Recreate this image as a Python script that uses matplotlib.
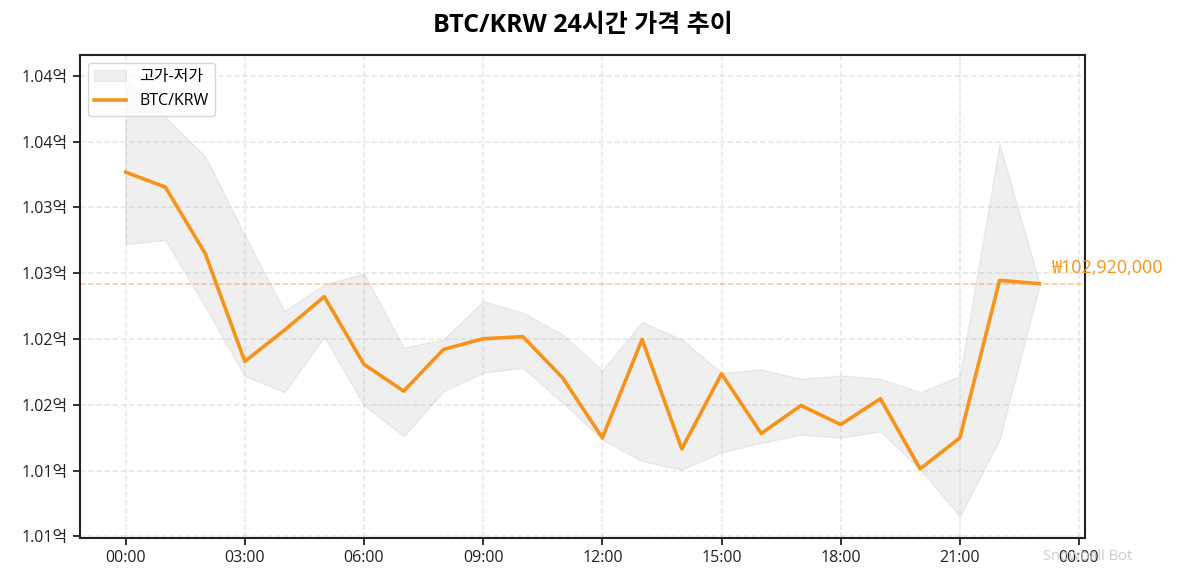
import matplotlib
matplotlib.use("Agg")
import matplotlib.pyplot as plt
from matplotlib.ticker import FuncFormatter, MultipleLocator
from matplotlib.patches import Patch
from matplotlib.lines import Line2D

plt.rcParams['font.family'] = ['Open Sans', 'Noto Sans CJK KR', 'DejaVu Sans']

hours = list(range(24))
close = [103.768, 103.654, 103.151, 102.330, 102.568, 102.822, 102.307, 102.104,
         102.421, 102.502, 102.518, 102.205, 101.749, 102.497, 101.665, 102.236,
         101.782, 101.995, 101.850, 102.046, 101.513, 101.749, 102.946, 102.920]
high = [104.46, 104.186, 103.89, 103.288, 102.712, 102.914, 102.999, 102.434,
        102.497, 102.788, 102.700, 102.535, 102.263, 102.629, 102.497, 102.243,
        102.269, 102.198, 102.223, 102.198, 102.096, 102.218, 103.981, 102.928]
low = [103.22, 103.253, 102.748, 102.218, 102.096, 102.517, 101.995, 101.761,
       102.103, 102.243, 102.282, 102.015, 101.736, 101.571, 101.508, 101.639,
       101.711, 101.774, 101.749, 101.799, 101.508, 101.152, 101.736, 102.903]
close = [v * 1e6 for v in close]
high = [v * 1e6 for v in high]
low = [v * 1e6 for v in low]
current_price = 102920000
xtick_hours = [0, 3, 6, 9, 12, 15, 18, 21, 24]

orange = '#F7931A'

fig = plt.figure(figsize=(11.81, 5.85), dpi=100)
ax = fig.add_axes([80/1181, 1-538/585, (1085-80)/1181, (538-55)/585])

ax.fill_between(hours, low, high, color='gray', alpha=0.12, linewidth=1)
ax.plot(hours, close, color=orange, linewidth=2.6, zorder=3)
ax.axhline(current_price, color=orange, linestyle='--', linewidth=1.1, alpha=0.5)
ax.text(hours[-1] + 0.3, current_price + 50000, f"₩{current_price:,}", color=orange,
        fontsize=13, va='bottom', ha='left')

ax.set_xticks(xtick_hours)
ax.xaxis.set_major_formatter(FuncFormatter(lambda v, p: f"{int(v) % 24:02d}:00"))
ax.yaxis.set_major_locator(MultipleLocator(500000))
ax.yaxis.set_major_formatter(FuncFormatter(lambda v, p: f"{v/1e8:.2f}억"))
ax.set_ylim(100.988e6, 104.658e6)
ax.margins(x=0.05)
ax.tick_params(labelsize=11.5, colors='#222222', length=5, width=1.3)
ax.grid(True, linestyle='--', alpha=0.3, linewidth=1.1)
for s in ax.spines.values():
    s.set_linewidth(1.5)
    s.set_color('#222222')

handles = [Patch(facecolor='gray', alpha=0.12, edgecolor='gray', linewidth=1),
           Line2D([0], [0], color=orange, linewidth=2.6)]
ax.legend(handles, ['고가-저가', 'BTC/KRW'], loc='upper left', fontsize=11.5, framealpha=0.8,
          borderaxespad=0.5)

fig.text(582.5/1181, 1-26/585, 'BTC/KRW 24시간 가격 추이', fontsize=18, fontweight='bold',
         ha='center', va='center')
fig.text(1088/1181, 1-556/585, 'Snowball Bot', fontsize=10.5, color='#cccccc', ha='center', va='center')

fig.savefig('out.png', dpi=100)
